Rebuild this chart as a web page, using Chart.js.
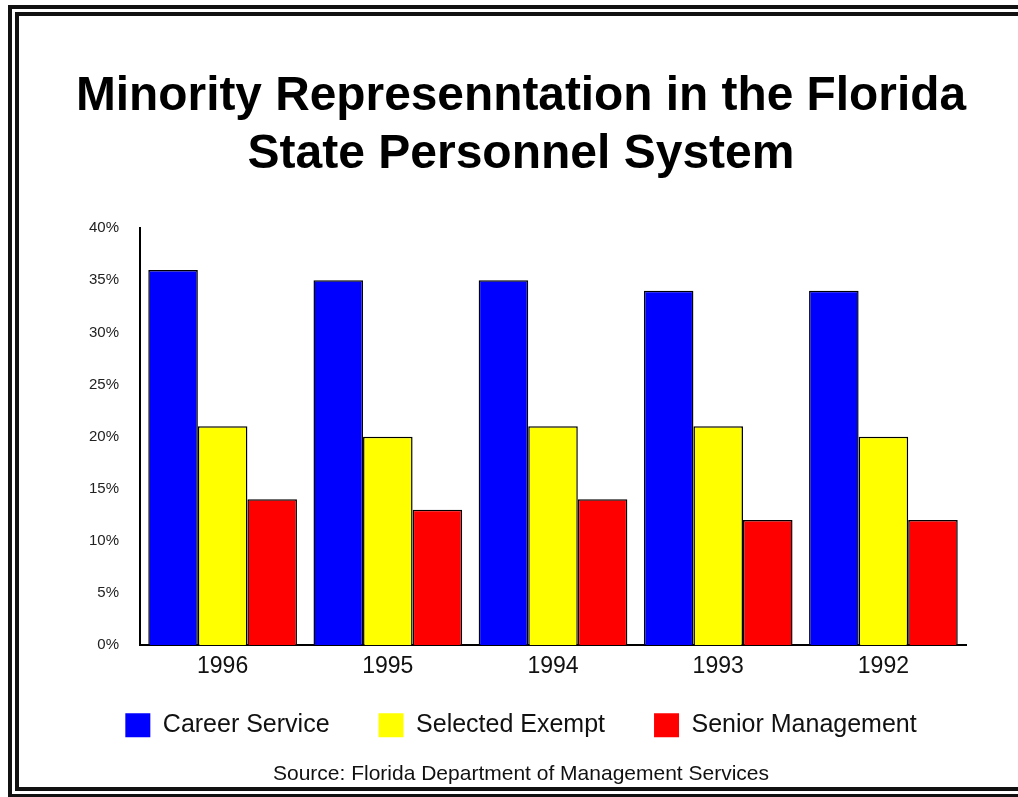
<!DOCTYPE html>
<html>
<head>
<meta charset="utf-8">
<script src="https://cdn.jsdelivr.net/npm/chart.js@4"></script>
<style>
  html, body { margin: 0; padding: 0; background: #fff; overflow: hidden; }
  #frame {
    position: absolute; left: 8px; top: 5px; width: 1030px; height: 771px;
    border: 11px double #111; background: #fff;
  }
  #wrap { position: absolute; left: 17px; top: 13px; width: 994px; height: 784px; }
</style>
</head>
<body>
<div id="frame"></div>
<div id="wrap"><canvas id="myChart"></canvas></div>
<script>
const years = ["1996", "1995", "1994", "1993", "1992"];
const careerService = [36, 35, 35, 34, 34];
const selectedExempt = [21, 20, 21, 21, 20];
const seniorManagement = [14, 13, 14, 12, 12];
const yTicks = [0, 5, 10, 15, 20, 25, 30, 35, 40];

const ctx = document.getElementById("myChart");

const config = {
  type: "bar",
  data: {
    labels: years,
    datasets: [
      { label: "Career Service", data: careerService, backgroundColor: "#0000ff" },
      { label: "Selected Exempt", data: selectedExempt, backgroundColor: "#ffff00" },
      { label: "Senior Management", data: seniorManagement, backgroundColor: "#ff0000" }
    ].map(d => Object.assign(d, {
      borderColor: "#000",
      borderWidth: 1.5,
      categoryPercentage: 0.9,
      barPercentage: 1.0
    }))
  },
  options: {
    responsive: true,
    maintainAspectRatio: false,
    animation: false,
    layout: { padding: { left: 59, right: 45, top: 0, bottom: 0 } },
    plugins: {
      title: {
        display: true,
        text: ["Minority Represenntation in the Florida", "State Personnel System"],
        color: "#000",
        font: { family: "Liberation Sans", size: 48, weight: "bold", lineHeight: 1.2 },
        padding: { top: 55, bottom: 45 }
      },
      subtitle: {
        display: true,
        position: "bottom",
        text: "Source: Florida Department of Management Services",
        color: "#111",
        font: { family: "Liberation Sans", size: 21, lineHeight: 1.2 },
        padding: { top: 14, bottom: 10 }
      },
      legend: {
        position: "bottom",
        labels: {
          boxWidth: 25,
          boxHeight: 24,
          padding: 24,
          color: "#111",
          font: { family: "Liberation Sans", size: 25 },
          // a little extra room between entries, as in the original key
          generateLabels: (chart) => chart.data.datasets.map((d, i, all) => ({
            text: i < all.length - 1 ? d.label + "\u2003" : d.label,
            fillStyle: d.backgroundColor,
            strokeStyle: d.backgroundColor,
            lineWidth: 0,
            datasetIndex: i,
            fontColor: "#111"
          }))
        }
      },
      tooltip: { enabled: false }
    },
    scales: {
      x: {
        grid: { display: false, drawTicks: false },
        border: { display: true, color: "#000", width: 2 },
        ticks: { color: "#111", font: { family: "Liberation Sans", size: 23 }, padding: 8 }
      },
      y: {
        min: 0,
        max: 40,
        afterBuildTicks: (scale) => { scale.ticks = yTicks.map(v => ({ value: v })); },
        grid: { display: false },
        border: { display: true, color: "#000", width: 2 },
        ticks: {
          color: "#222",
          padding: 13,
          font: { family: "Liberation Sans", size: 15 },
          callback: (v) => v + "%"
        }
      }
    }
  }
};

let chart = new Chart(ctx, config);
</script>
</body>
</html>
